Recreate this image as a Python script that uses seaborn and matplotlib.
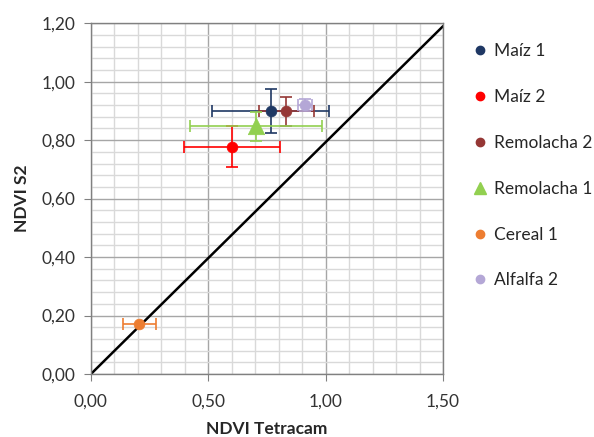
import pandas as pd
import matplotlib
matplotlib.use('Agg')
import matplotlib.pyplot as plt
from matplotlib.ticker import MultipleLocator, FuncFormatter
from matplotlib.lines import Line2D
import seaborn as sns

CULTIVOS = ['Maíz 1', 'Maíz 2', 'Remolacha 2', 'Remolacha 1', 'Cereal 1', 'Alfalfa 2']
NDVI_TETRACAM = [0.765, 0.60, 0.832, 0.703, 0.207, 0.913]
NDVI_S2 = [0.90, 0.778, 0.898, 0.847, 0.170, 0.919]
ERR_X = [0.25, 0.205, 0.117, 0.28, 0.07, 0.03]
ERR_Y = [0.076, 0.07, 0.05, 0.05, 0.0, 0.02]
LINEA_X = [0.0, 1.5]
LINEA_Y = [0.0, 1.19]

COLORES = {
    'Maíz 1': '#1F3864',
    'Maíz 2': '#FF0000',
    'Remolacha 2': '#953735',
    'Remolacha 1': '#92D050',
    'Cereal 1': '#ED7D31',
    'Alfalfa 2': '#B4A7D6',
}
MARCAS = {c: ('^' if c == 'Remolacha 1' else 'o') for c in CULTIVOS}


def coma(v, pos):
    return f'{v:.2f}'.replace('.', ',')


def main():
    sns.set_style('white')
    plt.rcParams['font.family'] = ['Lato', 'DejaVu Sans']
    df = pd.DataFrame({'cultivo': CULTIVOS, 'x': NDVI_TETRACAM, 'y': NDVI_S2,
                       'ex': ERR_X, 'ey': ERR_Y})

    fig = plt.figure(figsize=(5.94, 4.37), dpi=100)
    ax = fig.add_axes([0.153, 0.144, 0.593, 0.803])

    ax.plot(LINEA_X, LINEA_Y, color='black', lw=1.8, zorder=2)

    for _, r in df.iterrows():
        ax.errorbar(r.x, r.y, xerr=r.ex, yerr=r.ey if r.ey > 0 else None,
                    fmt='none', ecolor=COLORES[r.cultivo], elinewidth=1.2,
                    capsize=4, capthick=1.2, zorder=3)

    sizes = {c: (140 if c == 'Remolacha 1' else 60) for c in CULTIVOS}
    for c in CULTIVOS:
        sub = df[df.cultivo == c]
        sns.scatterplot(data=sub, x='x', y='y', color=COLORES[c], marker=MARCAS[c],
                        s=sizes[c], edgecolor=COLORES[c], linewidth=0.5,
                        ax=ax, zorder=4, legend=False)

    ax.set_xlim(0, 1.5)
    ax.set_ylim(0, 1.2)
    ax.xaxis.set_major_locator(MultipleLocator(0.5))
    ax.xaxis.set_minor_locator(MultipleLocator(0.1))
    ax.yaxis.set_major_locator(MultipleLocator(0.2))
    ax.yaxis.set_minor_locator(MultipleLocator(0.04))
    ax.xaxis.set_major_formatter(FuncFormatter(coma))
    ax.yaxis.set_major_formatter(FuncFormatter(coma))
    ax.grid(which='major', color='#A6A6A6', lw=1.0, zorder=0)
    ax.grid(which='minor', color='#D9D9D9', lw=1.0, zorder=0)
    ax.set_axisbelow(True)
    ax.tick_params(which='major', direction='out', length=5, color='#808080',
                   labelsize=12.5, labelcolor='#333333', left=True, bottom=True)
    ax.tick_params(axis='x', pad=9)
    ax.tick_params(axis='y', pad=6)
    ax.tick_params(which='minor', length=0)
    for s in ax.spines.values():
        s.set_color('#808080')
        s.set_linewidth(1.0)

    ax.set_xlabel('NDVI Tetracam', fontsize=12.5, fontweight='bold', labelpad=8)
    ax.set_ylabel('NDVI S2', fontsize=12.5, fontweight='bold', labelpad=8)

    handles = [Line2D([], [], ls='none', marker=MARCAS[c], color=COLORES[c],
                      markersize=(9 if MARCAS[c] == '^' else 6)) for c in CULTIVOS]
    fig.legend(handles, CULTIVOS, loc='upper left', bbox_to_anchor=(0.77, 0.937),
               frameon=False, fontsize=12.5, labelspacing=1.72, handlelength=0.8,
               handletextpad=0.4)

    fig.savefig('out.png', dpi=100)


if __name__ == '__main__':
    main()
